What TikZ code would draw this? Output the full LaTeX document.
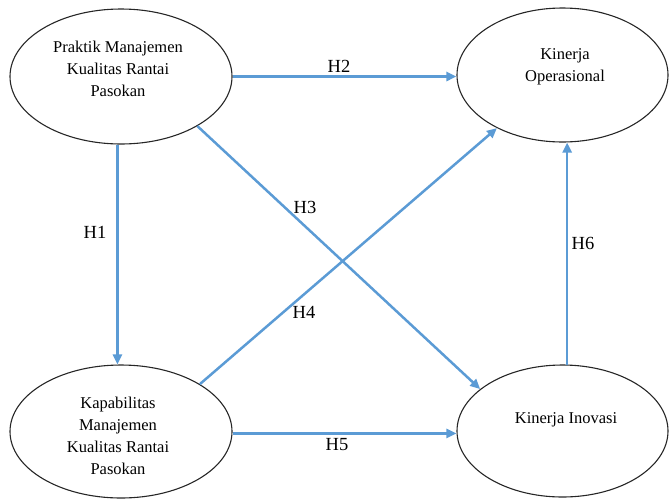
\documentclass[tikz,border=0pt]{standalone}
\usepackage{fontspec}
\setmainfont{Liberation Serif}
\usetikzlibrary{shapes.geometric,arrows.meta}
\definecolor{arrowblue}{RGB}{91,155,213}
\begin{document}
\begin{tikzpicture}[x=1pt,y=-1pt,
  oval/.style={draw=black!85, line width=1.1pt, ellipse, inner sep=0pt},
  txt/.style={font=\fontsize{16.5}{22}\selectfont, align=center, inner sep=0pt},
  hyp/.style={draw=arrowblue, line width=2.5pt, -{Triangle[length=10pt,width=9pt]}},
  lab/.style={font=\fontsize{18.5}{20}\selectfont, inner sep=0pt}]
\useasboundingbox (0,0) rectangle (669,499);
\node[oval, minimum width=222pt, minimum height=135pt] (tl) at (121,76.5) {};
\node[oval, minimum width=211pt, minimum height=134pt] (tr) at (562.5,75) {};
\node[oval, minimum width=222pt, minimum height=133pt] (bl) at (121,431.5) {};
\node[oval, minimum width=211pt, minimum height=132pt] (br) at (562.5,431) {};
\node[txt] (tltext) at (118,69) {Praktik Manajemen\\Kualitas Rantai\\Pasokan};
\node[txt] (trtext) at (565,67) {Kinerja\\Operasional};
\node[txt] (bltext) at (118,436) {Kapabilitas\\Manajemen\\Kualitas Rantai\\Pasokan};
\node[txt] (brtext) at (566,420) {Kinerja Inovasi};
\draw[hyp] (tl.-0.8) -- (tl.-0.8 -| tr.west);
\draw[hyp] (tl.-93.4) -- (tl.-93.4 |- bl.north);
\draw[hyp] (tl.-33.2) -- (br.153.2);
\draw[hyp] (bl.31.1) -- (tr.219.9);
\draw[hyp] (bl.-1.8) -- (bl.-1.8 -| br.west);
\draw[hyp] (br.86.5) -- (br.86.5 |- tr.south);
\node[lab] (h1) at (95,232) {H1};
\node[lab] (h2) at (339,66) {H2};
\node[lab] (h3) at (305,207) {H3};
\node[lab] (h4) at (304,312) {H4};
\node[lab] (h5) at (337,445) {H5};
\node[lab] (h6) at (583,243) {H6};
\end{tikzpicture}
\end{document}
